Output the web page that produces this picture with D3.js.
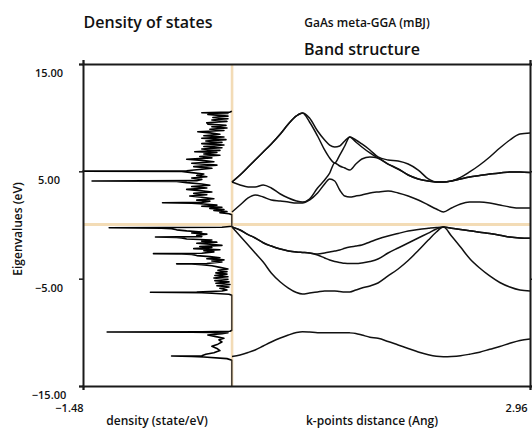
<!DOCTYPE html>
<html><head><meta charset="utf-8">
<script src="https://cdn.jsdelivr.net/npm/d3@7"></script>
<style>
html,body{margin:0;padding:0;background:#fff;}
svg text{font-family:"Open Sans","Noto Sans",sans-serif;font-weight:600;fill:#111;}
</style></head><body>
<svg id="c" width="532" height="434"></svg>
<script>
// ---------- data ----------
const kPoints = [0,0.08,0.16,0.23,0.31,0.39,0.48,0.56,0.64,0.70,0.77,0.85,0.92,0.97,1.02,1.07,1.12,1.17,1.23,1.29,1.37,1.45,1.55,1.65,1.75,1.85,1.95,2.03,2.10,2.18,2.27,2.36,2.46,2.56,2.66,2.76,2.86,2.96];

const bandC4 = [4.01,4.66,5.40,6.06,6.80,7.55,8.48,9.41,10.16,10.43,9.97,8.76,7.92,7.45,7.27,7.36,7.83,8.20,7.92,7.55,6.99,6.34,6.06,5.96,5.68,5.12,4.29,4.01,4.01,4.10,4.43,4.94,5.59,6.34,7.17,7.92,8.48,8.57];
const bandC3 = [4.01,4.66,5.40,6.06,6.80,7.55,8.48,9.41,10.16,10.43,9.60,8.29,6.99,6.24,5.78,6.52,7.36,8.20,7.73,7.27,6.71,6.24,5.68,5.22,4.66,4.29,4.10,4.01,4.01,4.10,4.29,4.47,4.61,4.75,4.84,4.94,4.94,4.89];
const bandC2 = [4.01,3.73,3.54,3.54,3.73,3.45,2.89,2.52,2.24,2.14,2.42,3.45,4.19,4.84,5.78,5.50,5.31,5.12,5.68,6.15,6.34,6.24,5.68,5.22,4.66,4.29,4.10,4.01,4.01,4.10,4.29,4.47,4.61,4.75,4.84,4.94,4.94,4.89];
const bandC1 = [1.21,1.86,2.52,2.80,2.61,2.33,2.24,2.14,2.05,2.05,2.33,2.98,3.82,4.29,4.10,3.26,2.70,2.61,2.70,2.80,2.98,3.08,3.17,2.98,2.70,2.33,1.86,1.49,1.21,1.58,1.96,2.14,2.14,2.05,1.86,1.68,1.58,1.58];
const bandV1 = [-0.19,-0.47,-0.89,-1.21,-1.65,-1.96,-2.24,-2.42,-2.52,-2.56,-2.61,-2.70,-2.61,-2.52,-2.42,-2.33,-2.17,-2.05,-1.96,-1.86,-1.58,-1.30,-1.02,-0.79,-0.56,-0.42,-0.31,-0.23,-0.19,-0.30,-0.42,-0.53,-0.67,-0.80,-0.95,-1.12,-1.21,-1.24];
const bandV2 = [-0.19,-0.47,-0.89,-1.21,-1.65,-1.96,-2.24,-2.42,-2.52,-2.56,-2.61,-2.80,-3.07,-3.26,-3.40,-3.49,-3.57,-3.59,-3.59,-3.54,-3.40,-3.17,-2.61,-2.14,-1.68,-1.21,-0.75,-0.37,-0.19,-0.30,-0.42,-0.53,-0.67,-0.80,-0.95,-1.12,-1.21,-1.24];
const bandV3 = [-0.19,-1.02,-1.86,-2.61,-3.45,-4.47,-5.31,-5.87,-6.29,-6.43,-6.34,-6.24,-6.15,-6.15,-6.15,-6.20,-6.24,-6.24,-6.06,-5.87,-5.68,-5.40,-4.75,-4.10,-3.31,-2.38,-1.40,-0.65,-0.19,-1.02,-2.05,-3.12,-4.01,-4.75,-5.36,-5.78,-6.06,-6.15];
const bandV4 = [-12.25,-12.11,-11.88,-11.64,-11.27,-10.90,-10.53,-10.25,-10.02,-9.94,-9.97,-10.03,-10.03,-10.03,-10.03,-10.03,-10.03,-10.05,-10.11,-10.25,-10.45,-10.56,-10.85,-11.18,-11.50,-11.83,-12.09,-12.23,-12.27,-12.25,-12.18,-12.04,-11.85,-11.58,-11.32,-11.02,-10.76,-10.62];

// density of states: energy (eV) and density (state/eV), drawn to the left of 0
const dosEnergy = [-15.00,-12.60,-12.45,-12.30,-12.24,-12.21,-12.18,-12.05,-11.90,-11.70,-11.50,-11.30,-11.10,-10.90,-10.70,-10.55,-10.40,-10.25,-10.12,-10.03,-9.99,-9.97,-9.95,-9.90,-9.80,
 -6.55,-6.45,-6.36,-6.30,-6.27,-6.24,-6.15,-6.05,-5.90,-5.78,-5.66,-5.54,-5.42,-5.30,-5.18,-5.06,-4.94,-4.82,-4.70,-4.58,-4.46,-4.34,-4.22,-4.10,-3.95,-3.80,-3.70,-3.64,-3.62,-3.58,-3.45,-3.35,-3.25,-3.15,-3.05,-2.95,-2.85,-2.75,-2.70,-2.67,-2.63,-2.50,-2.40,-2.30,-2.20,-2.10,-2.00,-1.90,-1.80,-1.70,-1.60,-1.50,-1.40,-1.30,-1.20,-1.15,-1.12,-1.08,-0.95,-0.85,-0.75,-0.65,-0.55,-0.45,-0.35,-0.29,-0.25,-0.21,-0.12,
 0.95,1.05,1.15,1.25,1.35,1.45,1.55,1.65,1.75,1.85,1.95,2.04,2.08,2.11,2.22,2.32,2.45,2.58,2.70,2.82,2.95,3.08,3.20,3.32,3.45,3.58,3.70,3.82,3.95,4.06,4.10,4.13,4.25,4.38,4.50,4.62,4.75,4.88,4.98,5.02,5.05,5.15,5.28,5.44,5.58,5.75,5.90,6.02,6.12,6.25,6.38,6.50,6.62,6.75,6.83,6.95,7.08,7.20,7.32,7.45,7.58,7.70,7.82,7.95,8.08,8.20,8.32,8.45,8.58,8.69,8.80,8.92,9.04,9.16,9.28,9.40,9.53,9.65,9.78,9.90,10.02,10.14,10.30,10.40,10.46,10.52,10.60];
const dosValue = [0,0,0.05,0.28,0.40,0.60,0.30,0.26,0.18,0.12,0.15,0.20,0.14,0.10,0.13,0.08,0.16,0.24,0.10,0.04,0.40,1.24,0.30,0.02,0,
 0,0.03,0.20,0.30,0.81,0.35,0.10,0.05,0.12,0.03,0.15,0.02,0.16,0.03,0.17,0.04,0.18,0.04,0.17,0.05,0.16,0.05,0.14,0.04,0.12,0.20,0.30,0.40,0.55,0.25,0.10,0.20,0.08,0.25,0.12,0.22,0.35,0.40,0.50,0.78,0.30,0.18,0.28,0.12,0.38,0.20,0.32,0.10,0.22,0.35,0.15,0.30,0.20,0.45,0.50,0.55,0.76,0.30,0.35,0.25,0.40,0.30,0.45,0.55,0.60,0.70,1.22,0.10,0,
 0,0.03,0.12,0.05,0.18,0.08,0.22,0.10,0.30,0.15,0.28,0.40,0.69,0.30,0.22,0.35,0.18,0.30,0.42,0.25,0.38,0.20,0.32,0.45,0.25,0.40,0.22,0.30,0.45,0.55,1.39,0.35,0.30,0.40,0.25,0.35,0.28,0.40,0.50,1.48,0.45,0.35,0.20,0.38,0.15,0.40,0.18,0.30,0.45,0.20,0.32,0.12,0.28,0.15,0.37,0.12,0.30,0.10,0.28,0.08,0.30,0.10,0.26,0.06,0.30,0.08,0.28,0.12,0.22,0.34,0.08,0.22,0.05,0.20,0.06,0.24,0.25,0.05,0.20,0.04,0.19,0.04,0.24,0.04,0.30,0.02,0];

const yTicks = [15, 5, -5, -15];
const xTicks = [-1.48, 2.96];

// ---------- drawing ----------
const svg = d3.select("#c");
const x = d3.scaleLinear().domain([-1.48, 2.96]).range([83, 530]);
const y = d3.scaleLinear().domain([-15, 15]).range([386, 64]);
const tan = "#f3dcb6";

// Fermi / zero lines
svg.append("line").attr("x1", x(-1.48)).attr("x2", x(2.96)).attr("y1", y(0)-0.5).attr("y2", y(0)-0.5)
  .attr("stroke", tan).attr("stroke-width", 3);
svg.append("line").attr("x1", x(0)).attr("x2", x(0)).attr("y1", y(15)).attr("y2", y(-15))
  .attr("stroke", tan).attr("stroke-width", 2.5);

// DOS
const dos = dosEnergy.map((e, i) => [e, dosValue[i]]);
svg.append("path").datum(dos)
  .attr("d", d3.line().x(d => x(-d[1])).y(d => y(d[0])))
  .attr("fill", "none").attr("stroke", "#000").attr("stroke-width", 1.6)
  .attr("stroke-linejoin", "round");
// zero line tint over the DOS baseline
svg.append("line").attr("x1", x(0)+0.5).attr("x2", x(0)+0.5).attr("y1", y(15)).attr("y2", y(-15))
  .attr("stroke", tan).attr("stroke-width", 1.5).attr("stroke-opacity", 0.5);

// bands
const bands = [bandC4, bandC3, bandC2, bandC1, bandV1, bandV2, bandV3, bandV4];
const bandLine = d3.line().curve(d3.curveMonotoneX).x((d, i) => x(kPoints[i])).y(d => y(d));
svg.append("g").selectAll("path").data(bands).join("path")
  .attr("d", bandLine).attr("fill", "none").attr("stroke", "#111").attr("stroke-width", 1.5);

// frame/axes
const axL = d3.axisLeft(y).tickValues(yTicks).tickSize(4).tickFormat(d3.format(".2f"));
const gL = svg.append("g").attr("transform", `translate(${x(-1.48)},0)`).call(axL);
gL.selectAll("text").attr("x", -34).attr("dy", "12.5px").attr("text-anchor", "middle").style("font-size", "11px");
const axR = d3.axisRight(y).tickValues(yTicks).tickSize(4).tickFormat("");
svg.append("g").attr("transform", `translate(${x(2.96)},0)`).call(axR);
const axB = d3.axisBottom(x).tickValues(xTicks).tickSize(4).tickFormat(d3.format(".2f"));
const gB = svg.append("g").attr("transform", `translate(0,${y(-15)})`).call(axB);
gB.selectAll("text").attr("y", 22).attr("dy", "0.32em").attr("text-anchor", "end").style("font-size", "11px");
gB.selectAll(".tick").filter(d => d > 0).select("text").attr("x", -3);
const axT = d3.axisTop(x).tickValues(xTicks).tickSize(4).tickFormat("");
svg.append("g").attr("transform", `translate(0,${y(15)})`).call(axT);
svg.selectAll(".domain").attr("stroke", "#1a1a1a").attr("stroke-width", 2);
svg.selectAll(".tick line").attr("stroke", "#1a1a1a").attr("stroke-width", 1.5);

// titles
svg.append("text").attr("x", 148).attr("y", 28).attr("text-anchor", "middle").style("font-size", "16px").text("Density of states");
svg.append("text").attr("x", 367).attr("y", 27).attr("text-anchor", "middle").style("font-size", "12px").text("GaAs meta-GGA (mBJ)");
svg.append("text").attr("x", 362).attr("y", 55).attr("text-anchor", "middle").style("font-size", "16px").text("Band structure");
svg.append("text").attr("transform", "translate(22,229) rotate(-90)").attr("text-anchor", "middle").style("font-size", "12px").text("Eigenvalues (eV)");
svg.append("text").attr("x", 157).attr("y", 425).attr("text-anchor", "middle").style("font-size", "12px").text("density (state/eV)");
svg.append("text").attr("x", 372).attr("y", 425).attr("text-anchor", "middle").style("font-size", "12px").text("k-points distance (Ang)");
</script>
</body></html>
